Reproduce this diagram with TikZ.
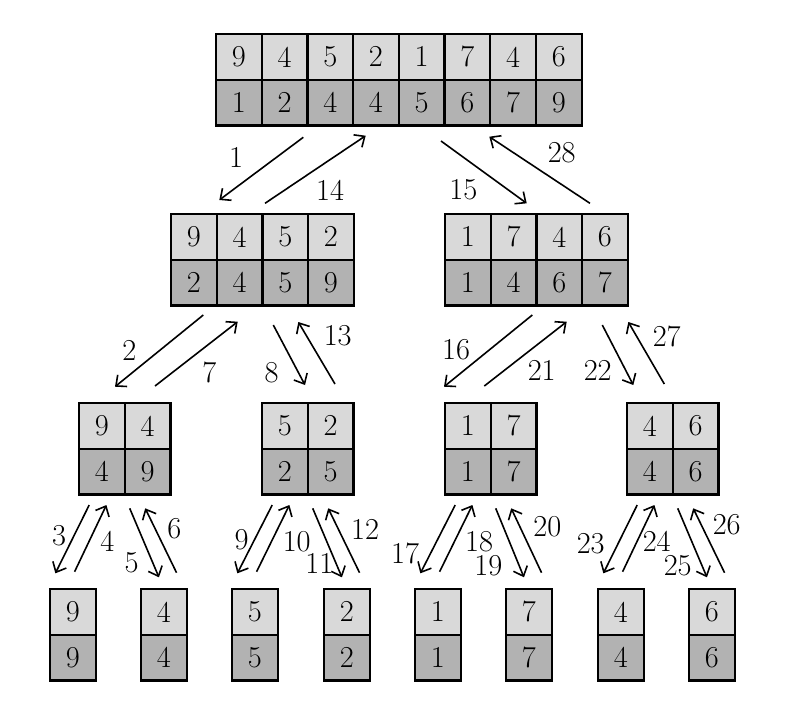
\documentclass[tikz,border=0pt]{standalone}
\usetikzlibrary{arrows.meta,calc}
\definecolor{lightc}{gray}{0.85}
\definecolor{darkc}{gray}{0.70}
\tikzset{
 cell/.style={draw, line width=1.1pt, minimum size=22.85pt, inner sep=0pt, outer sep=0pt, font=\fontsize{15.2}{18}\selectfont},
 topc/.style={cell, fill=lightc},
 botc/.style={cell, fill=darkc},
 conn/.style={line width=0.8pt, -{Straight Barb[length=4.2pt,width=7.5pt]}},
 lbl/.style={font=\fontsize{15.2}{18}\selectfont, inner sep=0pt},
}
\newcommand\blk[6]{%
  \foreach \v [count=\i] in {#5} {\node[topc] (#1-t\i) at ({#2+(\i-0.5)*45.7},{#3+22.85}) {\v};}
  \foreach \v [count=\i] in {#6} {\node[botc] (#1-b\i) at ({#2+(\i-0.5)*45.7},{#3+68.55}) {\v};}
  \coordinate (#1-n) at ({#2+#4*22.85},#3);
  \coordinate (#1-s) at ({#2+#4*22.85},{#3+91.4});
}
\newcommand\arr[6]{\draw[conn] ($(#1)+(#2,#3)$) -- ($(#4)+(#5,#6)$);}
\newcommand\grp[3]{%
  \arr{#1-s}{-35.5}{10.6}{#2-n}{-17.5}{-15.7}
  \arr{#2-n}{1.75}{-17.3}{#1-s}{-18.3}{10.6}
  \arr{#1-s}{5}{13.9}{#3-n}{-4.9}{-11.7}
  \arr{#3-n}{12.7}{-16.3}{#1-s}{20.5}{13.9}
}
\begin{document}
\begin{tikzpicture}[x=0.5pt,y=-0.5pt]
\useasboundingbox (0,0) rectangle (796,709);
% blocks
\blk{R}{216}{34}{8}{9,4,5,2,1,7,4,6}{1,2,4,4,5,6,7,9}
\blk{B1}{171}{214}{4}{9,4,5,2}{2,4,5,9}
\blk{B2}{445}{214}{4}{1,7,4,6}{1,4,6,7}
\blk{C1}{79}{403}{2}{9,4}{4,9}
\blk{C2}{262}{403}{2}{5,2}{2,5}
\blk{C3}{445}{403}{2}{1,7}{1,7}
\blk{C4}{627}{403}{2}{4,6}{4,6}
\blk{D1}{50}{589}{1}{9}{9}
\blk{D2}{141}{589}{1}{4}{4}
\blk{D3}{232}{589}{1}{5}{5}
\blk{D4}{324}{589}{1}{2}{2}
\blk{D5}{415}{589}{1}{1}{1}
\blk{D6}{506}{589}{1}{7}{7}
\blk{D7}{598}{589}{1}{4}{4}
\blk{D8}{689}{589}{1}{6}{6}
% level 1 -> 2
\arr{R-s}{-95.5}{11.9}{B1-n}{-43.1}{-14}
\arr{B1-n}{2.6}{-10.7}{R-s}{-33.1}{10.3}
\arr{R-s}{42.2}{15.6}{B2-n}{-9.7}{-10.7}
\arr{B2-n}{53.6}{-10.7}{R-s}{90.5}{11.3}
% level 2 -> 3
\arr{B1-s}{-59.1}{9.6}{C1-n}{-9.7}{-16.3}
\arr{C1-n}{30.3}{-17}{B1-s}{-24.7}{16.3}
\arr{B1-s}{10.9}{19.6}{C2-n}{-2.7}{-18}
\arr{C2-n}{27.3}{-19}{B1-s}{35.9}{16.6}
\arr{B2-s}{-4.1}{9.6}{C3-n}{-46.7}{-16.3}
\arr{C3-n}{-6.4}{-17}{B2-s}{30.3}{16.3}
\arr{B2-s}{65.9}{19.6}{C4-n}{-39.4}{-18}
\arr{C4-n}{-8.4}{-19}{B2-s}{91.9}{16.6}
% level 3 -> 4
\grp{C1}{D1}{D2}
\grp{C2}{D3}{D4}
\grp{C3}{D5}{D6}
\grp{C4}{D7}{D8}
% labels
\node[lbl] (l1) at (236,157.3) {1};
\node[lbl] (l14) at (330,190.7) {14};
\node[lbl] (l15) at (463.3,190) {15};
\node[lbl] (l28) at (561.7,152.7) {28};
\node[lbl] (l2) at (129.3,350) {2};
\node[lbl] (l7) at (209.3,372.7) {7};
\node[lbl] (l8) at (271.7,372.7) {8};
\node[lbl] (l13) at (337.7,336) {13};
\node[lbl] (l16) at (456,350) {16};
\node[lbl] (l21) at (541.7,370) {21};
\node[lbl] (l22) at (597.7,370) {22};
\node[lbl] (l27) at (666.7,336.7) {27};
\node[lbl] (l3) at (59,536) {3};
\node[lbl] (l4) at (107.3,541.7) {4};
\node[lbl] (l5) at (131.7,562.7) {5};
\node[lbl] (l6) at (174.3,528.3) {6};
\node[lbl] (l9) at (241.7,539.3) {9};
\node[lbl] (l10) at (296.7,541.7) {10};
\node[lbl] (l11) at (319.3,563.3) {11};
\node[lbl] (l12) at (365,529.3) {12};
\node[lbl] (l17) at (405,553) {17};
\node[lbl] (l18) at (479,541.7) {18};
\node[lbl] (l19) at (488.3,566) {19};
\node[lbl] (l20) at (547.3,526.7) {20};
\node[lbl] (l23) at (590.7,543.3) {23};
\node[lbl] (l24) at (656.7,541.7) {24};
\node[lbl] (l25) at (677.7,566) {25};
\node[lbl] (l26) at (726.7,525) {26};
\end{tikzpicture}
\end{document}
